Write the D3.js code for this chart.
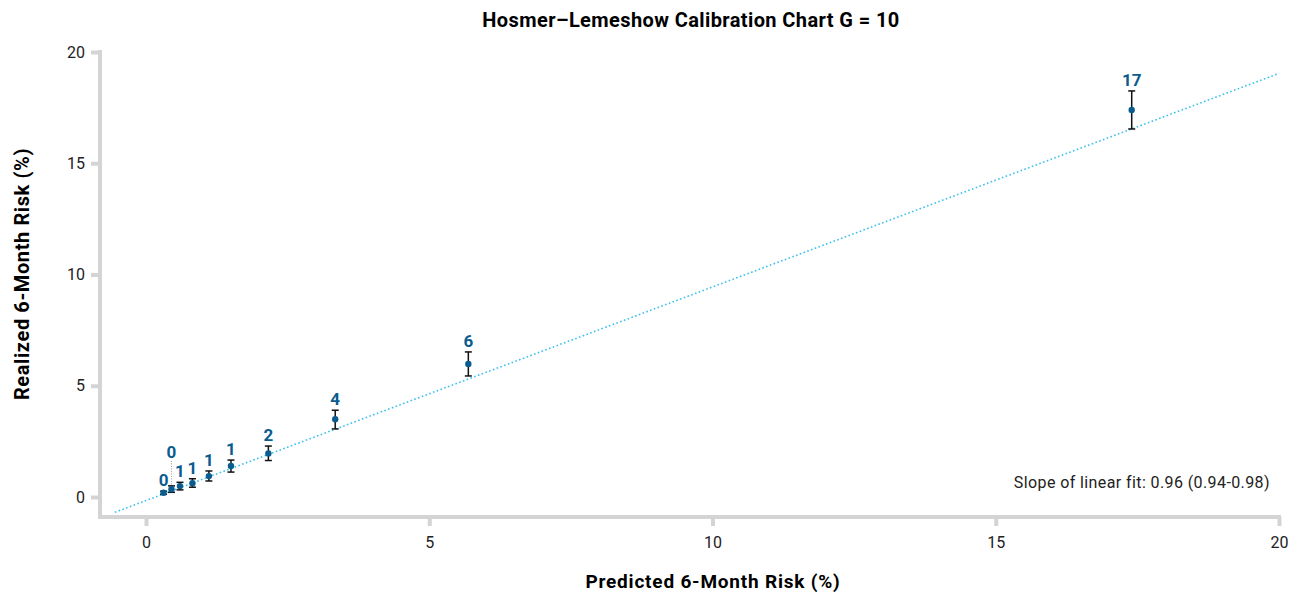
<!DOCTYPE html>
<html>
<head>
<meta charset="utf-8">
<script src="https://cdn.jsdelivr.net/npm/d3@7"></script>
<style>
  body { margin: 0; background: #fff; }
  text { font-family: Roboto, "Noto Sans", sans-serif; }
</style>
</head>
<body>
<script>
// Hosmer-Lemeshow groups (G = 10), values in %
const predicted = [0.31, 0.45, 0.60, 0.82, 1.11, 1.50, 2.16, 3.34, 5.69, 17.40];
const realized  = [0.19, 0.35, 0.49, 0.62, 0.94, 1.39, 1.96, 3.50, 5.98, 17.39];
const lower     = [0.12, 0.21, 0.32, 0.44, 0.72, 1.12, 1.64, 3.06, 5.44, 16.54];
const upper     = [0.26, 0.50, 0.66, 0.82, 1.17, 1.66, 2.29, 3.90, 6.52, 18.25];
const labels    = ["0", "0", "1", "1", "1", "1", "2", "4", "6", "17"];
const xTicks = [0, 5, 10, 15, 20];
const yTicks = [0, 5, 10, 15, 20];
const fitSlope = 0.96;
const fitIntercept = -0.16;
const fitRange = [-0.55, 20];

const data = predicted.map((p, i) => ({
  x: p, y: realized[i], lo: lower[i], hi: upper[i], label: labels[i]
}));

const width = 1292;
const height = 594;
const axisColor = "#d4d4d4";
const dotColor = "#0b5c8e";

const svg = d3.select("body").append("svg")
  .attr("width", width)
  .attr("height", height);

const xscale = d3.scaleLinear()
  .domain([0, 20])
  .range([146, 1279]);

const yscale = d3.scaleLinear()
  .domain([0, 20])
  .range([497, 52]);

const x0 = 100, y0 = 517; // where the two axis lines meet

// axes
const xaxis = d3.axisBottom(xscale)
  .tickValues(xTicks)
  .tickSize(9)
  .tickSizeOuter(0)
  .tickPadding(7);

const yaxis = d3.axisLeft(yscale)
  .tickValues(yTicks)
  .tickSize(9)
  .tickSizeOuter(0)
  .tickPadding(6);

const gx = svg.append("g")
  .attr("transform", `translate(0, ${y0})`)
  .call(xaxis);
gx.select(".domain").remove();
gx.insert("line", ":first-child")
  .attr("x1", x0).attr("x2", xscale(20))
  .attr("stroke", axisColor).attr("stroke-width", 4)
  .attr("stroke-linecap", "square");

const gy = svg.append("g")
  .attr("transform", `translate(${x0}, 0)`)
  .call(yaxis);
gy.select(".domain").remove();
gy.insert("line", ":first-child")
  .attr("y1", y0).attr("y2", yscale(20))
  .attr("stroke", axisColor).attr("stroke-width", 4)
  .attr("stroke-linecap", "square");

[gx, gy].forEach(g => {
  g.selectAll(".tick line").attr("stroke", axisColor).attr("stroke-width", 4);
  g.selectAll(".tick text")
    .attr("fill", "#222")
    .style("font-size", "16px");
});
gx.selectAll(".tick text").attr("dy", "0.95em");

// linear fit line
svg.append("line")
  .attr("x1", xscale(fitRange[0]))
  .attr("y1", yscale(fitSlope * fitRange[0] + fitIntercept))
  .attr("x2", xscale(fitRange[1]))
  .attr("y2", yscale(fitSlope * fitRange[1] + fitIntercept))
  .attr("stroke", "#3cc0ee")
  .attr("stroke-width", 1.6)
  .attr("stroke-dasharray", "1.6,2.4");

// error bars
const bars = svg.append("g")
  .selectAll("g")
  .data(data)
  .enter()
  .append("g")
  .attr("stroke", "#111")
  .attr("stroke-width", 1.5);

bars.append("line")
  .attr("x1", d => xscale(d.x)).attr("x2", d => xscale(d.x))
  .attr("y1", d => yscale(d.lo)).attr("y2", d => yscale(d.hi));
bars.append("line")
  .attr("x1", d => xscale(d.x) - 3.5).attr("x2", d => xscale(d.x) + 3.5)
  .attr("y1", d => yscale(d.lo)).attr("y2", d => yscale(d.lo));
bars.append("line")
  .attr("x1", d => xscale(d.x) - 3.5).attr("x2", d => xscale(d.x) + 3.5)
  .attr("y1", d => yscale(d.hi)).attr("y2", d => yscale(d.hi));

svg.selectAll("circle")
  .data(data)
  .enter()
  .append("circle")
  .attr("cx", d => xscale(d.x))
  .attr("cy", d => yscale(d.y))
  .attr("r", 3.2)
  .attr("fill", dotColor);

// labels; the second one is lifted to avoid overlapping its neighbours
const lift = (d, i) => (i === 1 ? 23 : 0);
data.forEach((d, i) => {
  const ly = yscale(d.hi) - 5 - lift(d, i);
  if (lift(d, i) > 0) {
    svg.append("line")
      .attr("x1", xscale(d.x)).attr("x2", xscale(d.x))
      .attr("y1", ly + 3).attr("y2", yscale(d.hi) - 1)
      .attr("stroke", "#999")
      .attr("stroke-width", 1)
      .attr("stroke-dasharray", "1,1.5");
  }
  svg.append("text")
    .attr("x", xscale(d.x))
    .attr("y", ly)
    .attr("text-anchor", "middle")
    .attr("fill", dotColor)
    .style("font-size", "17px")
    .style("font-weight", "bold")
    .text(d.label);
});

svg.append("text")
  .attr("x", 1270)
  .attr("y", 488)
  .attr("text-anchor", "end")
  .attr("fill", "#222")
  .style("font-size", "16px")
  .style("letter-spacing", "0.4px")
  .text("Slope of linear fit: 0.96 (0.94-0.98)");

// titles
svg.append("text")
  .attr("x", 691)
  .attr("y", 27)
  .attr("text-anchor", "middle")
  .style("font-size", "20px")
  .style("font-weight", "bold")
  .style("letter-spacing", "0.4px")
  .text("Hosmer–Lemeshow Calibration Chart G = 10");

svg.append("text")
  .attr("x", 713)
  .attr("y", 588)
  .attr("text-anchor", "middle")
  .style("font-size", "19px")
  .style("font-weight", "bold")
  .style("letter-spacing", "0.8px")
  .text("Predicted 6-Month Risk (%)");

svg.append("text")
  .attr("transform", "translate(29, 274) rotate(-90)")
  .attr("text-anchor", "middle")
  .style("font-size", "20px")
  .style("font-weight", "bold")
  .style("letter-spacing", "0.6px")
  .text("Realized 6-Month Risk (%)");
</script>
</body>
</html>
